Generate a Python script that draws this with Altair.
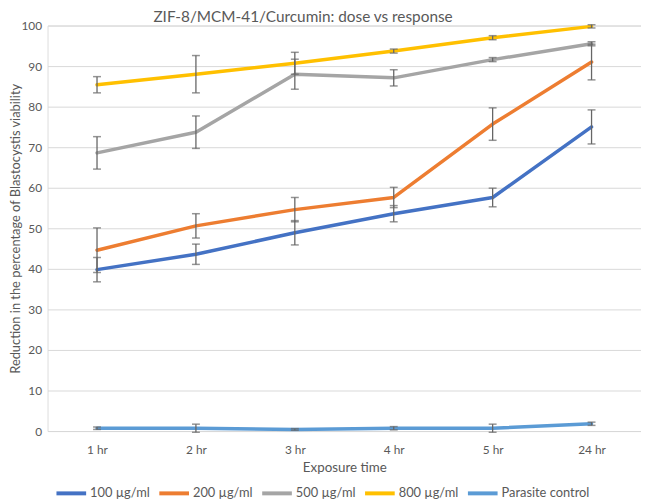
import altair as alt
import pandas as pd

times = ["1 hr", "2 hr", "3 hr", "4 hr", "5 hr", "24 hr"]
series_names = ["100 µg/ml", "200 µg/ml", "500 µg/ml", "800 µg/ml", "Parasite control"]
series_colors = ["#4472C4", "#ED7D31", "#A5A5A5", "#FFC000", "#5B9BD5"]

v100 = [39.8, 43.6, 48.9, 53.6, 57.6, 75.0]
e100 = [3.0, 2.5, 3.0, 2.0, 2.3, 4.2]
v200 = [44.6, 50.6, 54.6, 57.6, 75.7, 91.0]
e200 = [5.5, 3.0, 3.0, 2.5, 4.0, 4.4]
v500 = [68.6, 73.7, 88.0, 87.1, 91.6, 95.5]
e500 = [4.0, 4.0, 3.7, 2.0, 0.5, 0.5]
v800 = [85.4, 88.0, 90.7, 93.7, 97.0, 99.8]
e800 = [2.0, 4.6, 2.7, 0.5, 0.5, 0.4]
vpc = [0.7, 0.7, 0.4, 0.7, 0.7, 1.8]
epc = [0.3, 1.0, 0.2, 0.4, 1.0, 0.4]

title_text = "ZIF-8/MCM-41/Curcumin: dose vs response"
x_title = "Exposure time"
y_title = "Reduction in the percentage of Blastocystis viability"

values = [v100, v200, v500, v800, vpc]
errors = [e100, e200, e500, e800, epc]
rows = []
for si, name in enumerate(series_names):
    for ti, t in enumerate(times):
        v = values[si][ti]
        e = errors[si][ti]
        rows.append({"time": t, "series": name, "order": si, "value": v,
                     "lo": v - e, "hi": v + e})
df = pd.DataFrame(rows)

FONT = "Lato"
TXT = "#595959"

x_enc = alt.X("time:N", sort=times, scale=alt.Scale(type="point", padding=0.5),
              axis=alt.Axis(title=x_title, labelAngle=0, labelFontSize=12, labelColor=TXT,
                            labelFont=FONT, labelPadding=14, ticks=False, domain=False,
                            grid=False, titleFont=FONT, titleFontSize=13.5, titleColor=TXT,
                            titleFontWeight="normal", titlePadding=5))
y_scale = alt.Scale(domain=[0, 100], nice=False)

lines = alt.Chart(df).mark_line(strokeWidth=3.5, strokeCap="round", strokeJoin="round").encode(
    x=x_enc,
    y=alt.Y("value:Q", scale=y_scale,
            axis=alt.Axis(title=y_title, values=list(range(0, 101, 10)), labelFontSize=12,
                          labelColor=TXT, labelFont=FONT, labelPadding=6, ticks=False,
                          domain=False, gridColor="#D9D9D9", gridWidth=1,
                          titleFont=FONT, titleFontSize=13, titleColor=TXT,
                          titleFontWeight="normal", titleAngle=270, titleX=-32, titleY=205,
                          titleAlign="center", titleBaseline="middle")),
    color=alt.Color("series:N", sort=series_names,
                    scale=alt.Scale(domain=series_names, range=series_colors),
                    legend=alt.Legend(title=None, orient="none", direction="horizontal",
                                      legendX=7, legendY=456, symbolType="stroke",
                                      symbolSize=900, symbolStrokeWidth=4,
                                      labelFont=FONT, labelFontSize=13, labelColor=TXT,
                                      labelOffset=2, columnPadding=1)),
    order=alt.Order("order:Q"),
)

err_rule = alt.Chart(df).mark_rule(color="#666666", strokeWidth=1.3).encode(
    x=alt.X("time:N", sort=times), y=alt.Y("lo:Q", scale=y_scale), y2="hi:Q")
cap_lo = alt.Chart(df).mark_tick(color="#666666", orient="horizontal", size=8, thickness=1.5).encode(
    x=alt.X("time:N", sort=times), y=alt.Y("lo:Q", scale=y_scale))
cap_hi = alt.Chart(df).mark_tick(color="#666666", orient="horizontal", size=8, thickness=1.5).encode(
    x=alt.X("time:N", sort=times), y=alt.Y("hi:Q", scale=y_scale))

title = alt.Chart(pd.DataFrame({"t": [title_text]})).mark_text(
    align="left", baseline="middle", font=FONT, fontSize=15.5, color=TXT).encode(
    text="t:N", x=alt.value(107), y=alt.value(-9))

chart = alt.layer(lines, err_rule, cap_lo, cap_hi, title).properties(
    width=600, height=410,
    autosize=alt.AutoSizeParams(type="none"),
    padding={"left": 40, "top": 15, "right": 0, "bottom": 70},
).configure_view(stroke=None).configure(background="white")

chart.save("out.html", embed_options={"renderer": "svg", "actions": False})
